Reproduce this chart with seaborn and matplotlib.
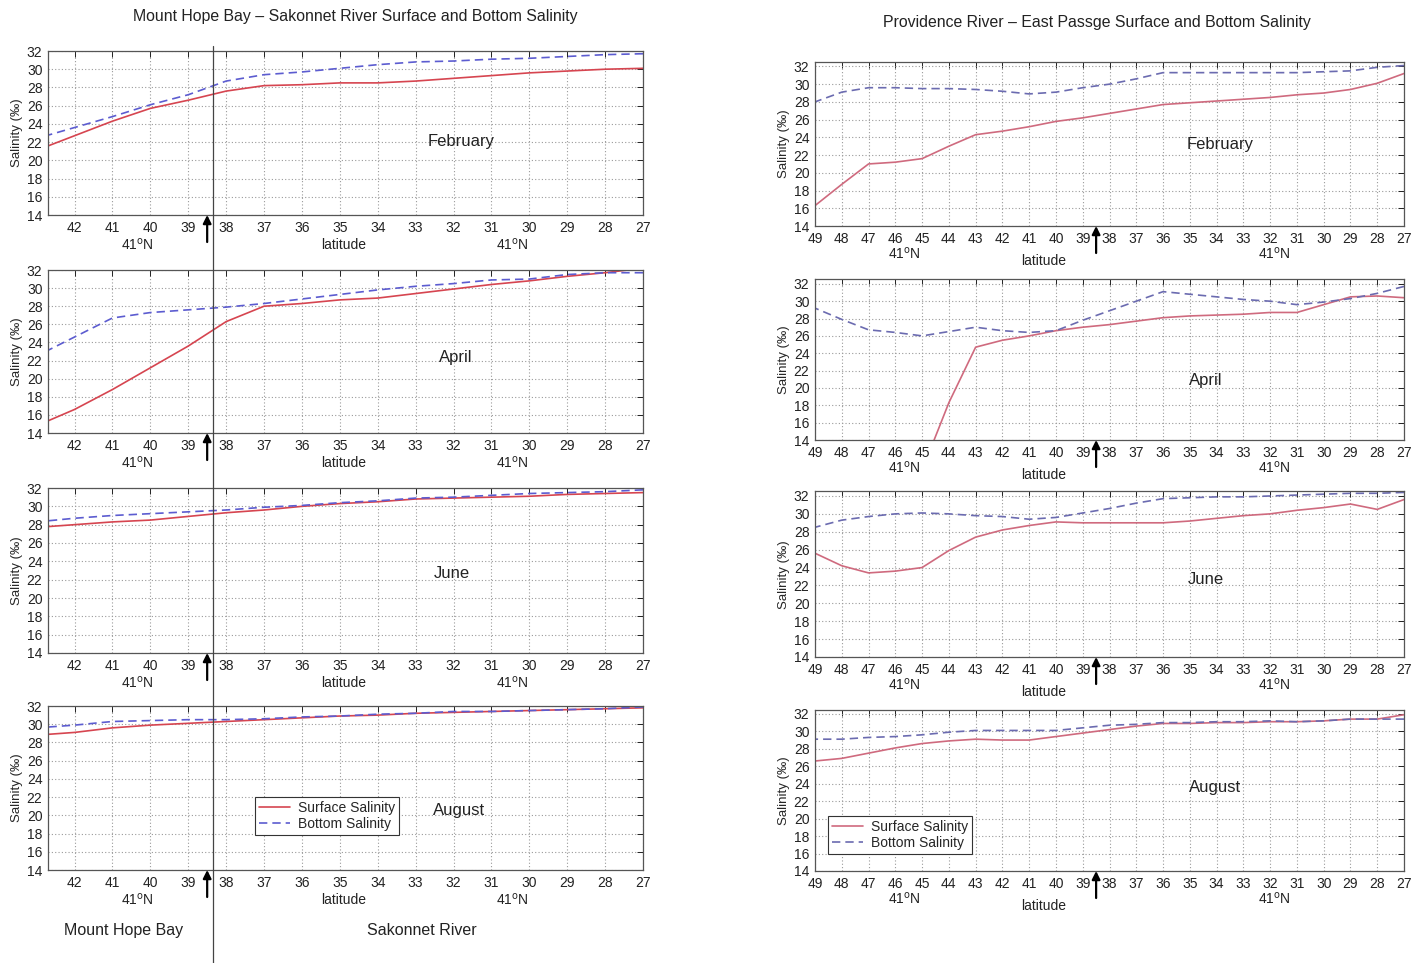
import matplotlib
matplotlib.use("Agg")
import matplotlib.pyplot as plt
from matplotlib.lines import Line2D
import pandas as pd
import seaborn as sns

sns.set_style("white")
plt.rcParams["font.family"] = ["Liberation Sans", "DejaVu Sans"]

# ---------------- data ----------------
months = ["February", "April", "June", "August"]

# Mount Hope Bay - Sakonnet River transect (station numbers)
mhb_stations = [43, 42, 41, 40, 39, 38, 37, 36, 35, 34, 33, 32, 31, 30, 29, 28, 27]
mhb_feb_surface = [21.1, 22.7, 24.3, 25.7, 26.6, 27.6, 28.2, 28.3, 28.5, 28.5, 28.7, 29.0, 29.3, 29.6, 29.8, 30.0, 30.1]
mhb_feb_bottom = [22.4, 23.6, 24.8, 26.1, 27.2, 28.7, 29.4, 29.7, 30.1, 30.5, 30.8, 30.9, 31.1, 31.2, 31.4, 31.6, 31.7]
mhb_apr_surface = [14.8, 16.6, 18.8, 21.2, 23.6, 26.3, 28.0, 28.3, 28.7, 28.9, 29.4, 29.9, 30.4, 30.8, 31.3, 31.7, 32.2]
mhb_apr_bottom = [22.5, 24.6, 26.7, 27.3, 27.6, 27.9, 28.3, 28.8, 29.3, 29.8, 30.2, 30.5, 30.9, 31.0, 31.5, 31.7, 31.7]
mhb_jun_surface = [27.7, 28.0, 28.3, 28.5, 28.9, 29.3, 29.6, 30.0, 30.3, 30.5, 30.8, 30.9, 31.0, 31.1, 31.3, 31.4, 31.5]
mhb_jun_bottom = [28.3, 28.7, 29.0, 29.2, 29.4, 29.6, 29.9, 30.1, 30.4, 30.6, 30.9, 31.0, 31.2, 31.4, 31.5, 31.6, 31.8]
mhb_aug_surface = [28.8, 29.1, 29.6, 29.9, 30.1, 30.3, 30.5, 30.7, 30.9, 31.0, 31.2, 31.3, 31.4, 31.5, 31.6, 31.7, 31.8]
mhb_aug_bottom = [29.6, 29.9, 30.3, 30.4, 30.5, 30.5, 30.6, 30.8, 30.9, 31.1, 31.2, 31.4, 31.4, 31.5, 31.6, 31.7, 31.9]

# Providence River - East Passage transect (station numbers)
pr_stations = [49, 48, 47, 46, 45, 44, 43, 42, 41, 40, 39, 38, 37, 36, 35, 34, 33, 32, 31, 30, 29, 28, 27]
pr_feb_surface = [16.3, 18.7, 21.0, 21.2, 21.6, 23.0, 24.3, 24.7, 25.2, 25.8, 26.2, 26.7, 27.2, 27.7, 27.9, 28.1, 28.3, 28.5, 28.8, 29.0, 29.4, 30.1, 31.2]
pr_feb_bottom = [28.0, 29.1, 29.6, 29.6, 29.5, 29.5, 29.4, 29.2, 28.9, 29.1, 29.6, 30.0, 30.6, 31.3, 31.3, 31.3, 31.3, 31.3, 31.3, 31.4, 31.5, 31.9, 32.1]
pr_apr_surface = [None, None, None, None, 10.5, 18.3, 24.7, 25.5, 26.0, 26.6, 27.0, 27.3, 27.7, 28.1, 28.3, 28.4, 28.5, 28.7, 28.7, 29.6, 30.5, 30.6, 30.4]
pr_apr_bottom = [29.2, 27.9, 26.7, 26.4, 26.0, 26.5, 27.0, 26.6, 26.4, 26.6, 27.8, 28.9, 30.0, 31.1, 30.8, 30.5, 30.2, 30.0, 29.6, 29.9, 30.3, 30.9, 31.7]
pr_jun_surface = [25.6, 24.2, 23.4, 23.6, 24.0, 25.9, 27.4, 28.2, 28.7, 29.1, 29.0, 29.0, 29.0, 29.0, 29.2, 29.5, 29.8, 30.0, 30.4, 30.7, 31.1, 30.5, 31.6]
pr_jun_bottom = [28.5, 29.3, 29.7, 30.0, 30.1, 30.0, 29.8, 29.7, 29.4, 29.6, 30.1, 30.6, 31.2, 31.7, 31.8, 31.9, 31.9, 32.0, 32.1, 32.2, 32.3, 32.3, 32.4]
pr_aug_surface = [26.6, 26.9, 27.5, 28.1, 28.6, 28.9, 29.1, 29.0, 29.0, 29.4, 29.8, 30.2, 30.6, 30.9, 30.9, 31.0, 31.0, 31.1, 31.1, 31.2, 31.4, 31.4, 31.9]
pr_aug_bottom = [29.1, 29.1, 29.3, 29.4, 29.6, 29.9, 30.1, 30.1, 30.1, 30.1, 30.4, 30.7, 30.8, 31.0, 31.0, 31.1, 31.1, 31.2, 31.1, 31.2, 31.4, 31.4, 31.4]

mhb_surface = [mhb_feb_surface, mhb_apr_surface, mhb_jun_surface, mhb_aug_surface]
mhb_bottom = [mhb_feb_bottom, mhb_apr_bottom, mhb_jun_bottom, mhb_aug_bottom]
pr_surface = [pr_feb_surface, pr_apr_surface, pr_jun_surface, pr_aug_surface]
pr_bottom = [pr_feb_bottom, pr_apr_bottom, pr_jun_bottom, pr_aug_bottom]

mhb_xticks = list(range(42, 26, -1))
pr_xticks = list(range(49, 26, -1))
yticks = list(range(14, 33, 2))
junction_station = 38.5
divider_station = 38.35

# month label anchor points (station, salinity)
mhb_month_pos = [(31.8, 22.1), (31.95, 22.3), (32.05, 22.7), (31.85, 20.5)]
pr_month_pos = [(33.85, 23.2), (34.4, 20.9), (34.4, 22.7), (34.05, 23.6)]
# latitude annotation stations
mhb_lat_marks = [40.35, 30.45]
mhb_lat_center = 34.9
pr_lat_marks = [45.65, 31.85]
pr_lat_center = 40.45

# ---------------- layout ----------------
W, H = 1424, 963
fig = plt.figure(figsize=(W / 100, H / 100), dpi=100)

def px_axes(x0, x1, top, bottom):
    return fig.add_axes([x0 / W, 1 - bottom / H, (x1 - x0) / W, (bottom - top) / H])

left_rows = [(51, 215), (270, 433), (488, 653), (706, 870)]
right_rows = [(62, 226), (279.5, 440), (491.5, 657), (709.5, 871)]

surf_left, bot_left = "#d64550", "#5c5cd0"
surf_right, bot_right = "#cf6a7e", "#6b6bb0"
text_color = "#222222"


def style_axes(ax, xticks, xlim, ylim, ylabel_pad):
    ax.set_xlim(*xlim)
    ax.set_ylim(*ylim)
    ax.set_xticks(xticks)
    ax.set_xticklabels([str(t) for t in xticks])
    ax.set_yticks(yticks)
    ax.grid(True, linestyle=(0, (1, 2)), color="#9a9a9a", linewidth=0.8)
    ax.tick_params(direction="in", top=True, right=True, length=4, width=0.7,
                   labelsize=10, pad=4, colors=text_color)
    for s in ax.spines.values():
        s.set_color("#555555")
        s.set_linewidth(0.9)
    ax.set_xlabel("")
    ax.set_ylabel("Salinity (‰)", fontsize=9.5, labelpad=ylabel_pad)


def under_axis(ax, x, text, dy, size=10):
    ax.annotate(text, xy=(x, 0), xycoords=ax.get_xaxis_transform(),
                xytext=(0, -dy), textcoords="offset pixels",
                ha="center", va="center", fontsize=size, color=text_color)


def draw_panel(ax, stations, surface, bottom, cs, cb, xticks, xlim, ylim,
               month, mpos, lat_marks, lat_center, lat_dy, lab_dy, ypad):
    df = pd.DataFrame({"station": stations, "surface": surface, "bottom": bottom})
    df = df.astype(float)
    sns.lineplot(data=df, x="station", y="surface", ax=ax, color=cs, linewidth=1.2)
    sns.lineplot(data=df, x="station", y="bottom", ax=ax, color=cb, linewidth=1.2,
                 linestyle=(0, (5, 3)))
    style_axes(ax, xticks, xlim, ylim, ypad)
    ax.text(mpos[0], mpos[1], month, ha="center", va="center", fontsize=12,
            color=text_color)
    for xm in lat_marks:
        under_axis(ax, xm, "41$^{\\rm o}$N", lat_dy)
    under_axis(ax, lat_center, "latitude", lab_dy)
    ax.annotate("", xy=(junction_station, 0), xycoords=ax.get_xaxis_transform(),
                xytext=(0, -27), textcoords="offset pixels",
                arrowprops=dict(arrowstyle="-|>", color="black", lw=1.6,
                                mutation_scale=12, shrinkA=0, shrinkB=0))


left_axes = []
for i, (top, bottom) in enumerate(left_rows):
    ax = px_axes(48, 643, top, bottom)
    draw_panel(ax, mhb_stations, mhb_surface[i], mhb_bottom[i], surf_left, bot_left,
               mhb_xticks, (42.7, 27), (14, 32), months[i], mhb_month_pos[i],
               mhb_lat_marks, mhb_lat_center, 30, 30, 3)
    left_axes.append(ax)

right_axes = []
for i, (top, bottom) in enumerate(right_rows):
    ax = px_axes(815, 1404, top, bottom)
    draw_panel(ax, pr_stations, pr_surface[i], pr_bottom[i], surf_right, bot_right,
               pr_xticks, (49, 27), (14, 32.5), months[i], pr_month_pos[i],
               pr_lat_marks, pr_lat_center, 28, 35, 3)
    right_axes.append(ax)

# legends
legend_handles_l = [Line2D([], [], color=surf_left, lw=1.2),
                    Line2D([], [], color=bot_left, lw=1.2, linestyle=(0, (5, 3)))]
legend_handles_r = [Line2D([], [], color=surf_right, lw=1.2),
                    Line2D([], [], color=bot_right, lw=1.2, linestyle=(0, (5, 3)))]
legend_labels = ["Surface Salinity", "Bottom Salinity"]
for ax, handles, anchor in [(left_axes[3], legend_handles_l, (0.348, 0.445)),
                            (right_axes[3], legend_handles_r, (0.022, 0.342))]:
    leg = ax.legend(handles, legend_labels, loc="upper left", bbox_to_anchor=anchor,
                    fontsize=10, frameon=True, fancybox=False, framealpha=1,
                    edgecolor="#333333", handlelength=2.2, handletextpad=0.6,
                    borderpad=0.3, labelspacing=0.15, borderaxespad=0)
    leg.get_frame().set_linewidth(0.8)

# vertical divider between Mount Hope Bay and Sakonnet River
fig.canvas.draw()
xd = left_axes[0].transData.transform((divider_station, 20))[0]
xf = fig.transFigure.inverted().transform((xd, 0))[0]
fig.add_artist(Line2D([xf, xf], [0, 1 - 46 / H], transform=fig.transFigure,
                      color="#444444", lw=0.9))

# titles and region names
fig.text(355 / W, 1 - 16 / H, "Mount Hope Bay – Sakonnet River Surface and Bottom Salinity",
         ha="center", va="center", fontsize=11.4, color=text_color)
fig.text(1097 / W, 1 - 23 / H, "Providence River – East Passge Surface and Bottom Salinity",
         ha="center", va="center", fontsize=11.4, color=text_color)
fig.text(124 / W, 1 - 930 / H, "Mount Hope Bay", ha="center", va="center",
         fontsize=11.5, color=text_color)
fig.text(422 / W, 1 - 930 / H, "Sakonnet River", ha="center", va="center",
         fontsize=11.5, color=text_color)

fig.savefig("out.png", dpi=100)
